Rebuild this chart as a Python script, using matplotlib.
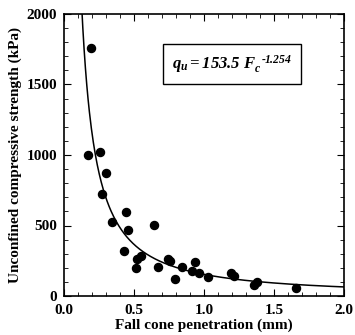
import numpy as np
import matplotlib
matplotlib.use('Agg')
import matplotlib.pyplot as plt
from matplotlib.ticker import MultipleLocator

plt.rcParams['font.family'] = 'Liberation Serif'
plt.rcParams['mathtext.fontset'] = 'custom'
plt.rcParams['mathtext.rm'] = 'Liberation Serif:bold:italic'
plt.rcParams['mathtext.it'] = 'Liberation Serif:bold:italic'

# measured points: fall cone penetration (mm) vs qu (kPa)
penetration = [0.17, 0.19, 0.26, 0.30, 0.27, 0.34, 0.44, 0.46, 0.64, 0.425,
               0.548, 0.524, 0.517, 0.669, 0.743, 0.757, 0.796, 0.84, 0.916,
               0.934, 0.965, 1.027, 1.194, 1.213, 1.354, 1.382, 1.659]
strength = [1000, 1760, 1020, 875, 720, 527, 598, 466, 503, 321,
            286, 260, 199, 208, 260, 250, 121, 203, 175,
            241, 165, 133, 163, 140, 78, 101, 59]

# fitted power law
coef = 153.5
expo = -1.254

fig = plt.figure(figsize=(3.55, 3.35), dpi=100)
ax = fig.add_axes([64/355, 1-296/335, 280/355, 282/335])

xf = np.linspace(0.125, 2.0, 400)
ax.plot(xf, coef*xf**expo, color='black', lw=1.1)
ax.plot(penetration, strength, 'o', color='black', ms=5.8)

ax.set_xlim(0, 2.0)
ax.set_ylim(0, 2000)
ax.xaxis.set_major_locator(MultipleLocator(0.5))
ax.xaxis.set_minor_locator(MultipleLocator(0.1))
ax.yaxis.set_major_locator(MultipleLocator(500))
ax.yaxis.set_minor_locator(MultipleLocator(100))
ax.xaxis.set_major_formatter(plt.FormatStrFormatter('%.1f'))
ax.tick_params(which='both', direction='in', top=True, right=True)
ax.tick_params(which='major', length=5, labelsize=11)
ax.tick_params(which='minor', length=3)
ax.tick_params(axis='x', pad=6)
ax.tick_params(axis='y', pad=5)
for lab in ax.get_xticklabels() + ax.get_yticklabels():
    lab.set_fontweight('bold')
for s in ax.spines.values():
    s.set_linewidth(1.2)

ax.set_xlabel('Fall cone penetration (mm)', fontsize=11, fontweight='bold', labelpad=1)
ax.set_ylabel('Unconfined compressive strength (kPa)', fontsize=11, fontweight='bold', labelpad=3)

eq = '$q_u = 153.5\\ F_c^{\\ \\ \u2010\\!1.254}$'
ax.text(0.385, 0.824, eq, transform=ax.transAxes,
        fontsize=12, ha='left', va='center',
        bbox=dict(boxstyle='square,pad=0.55', fc='white', ec='black', lw=1))

fig.savefig('out.png', dpi=100)
